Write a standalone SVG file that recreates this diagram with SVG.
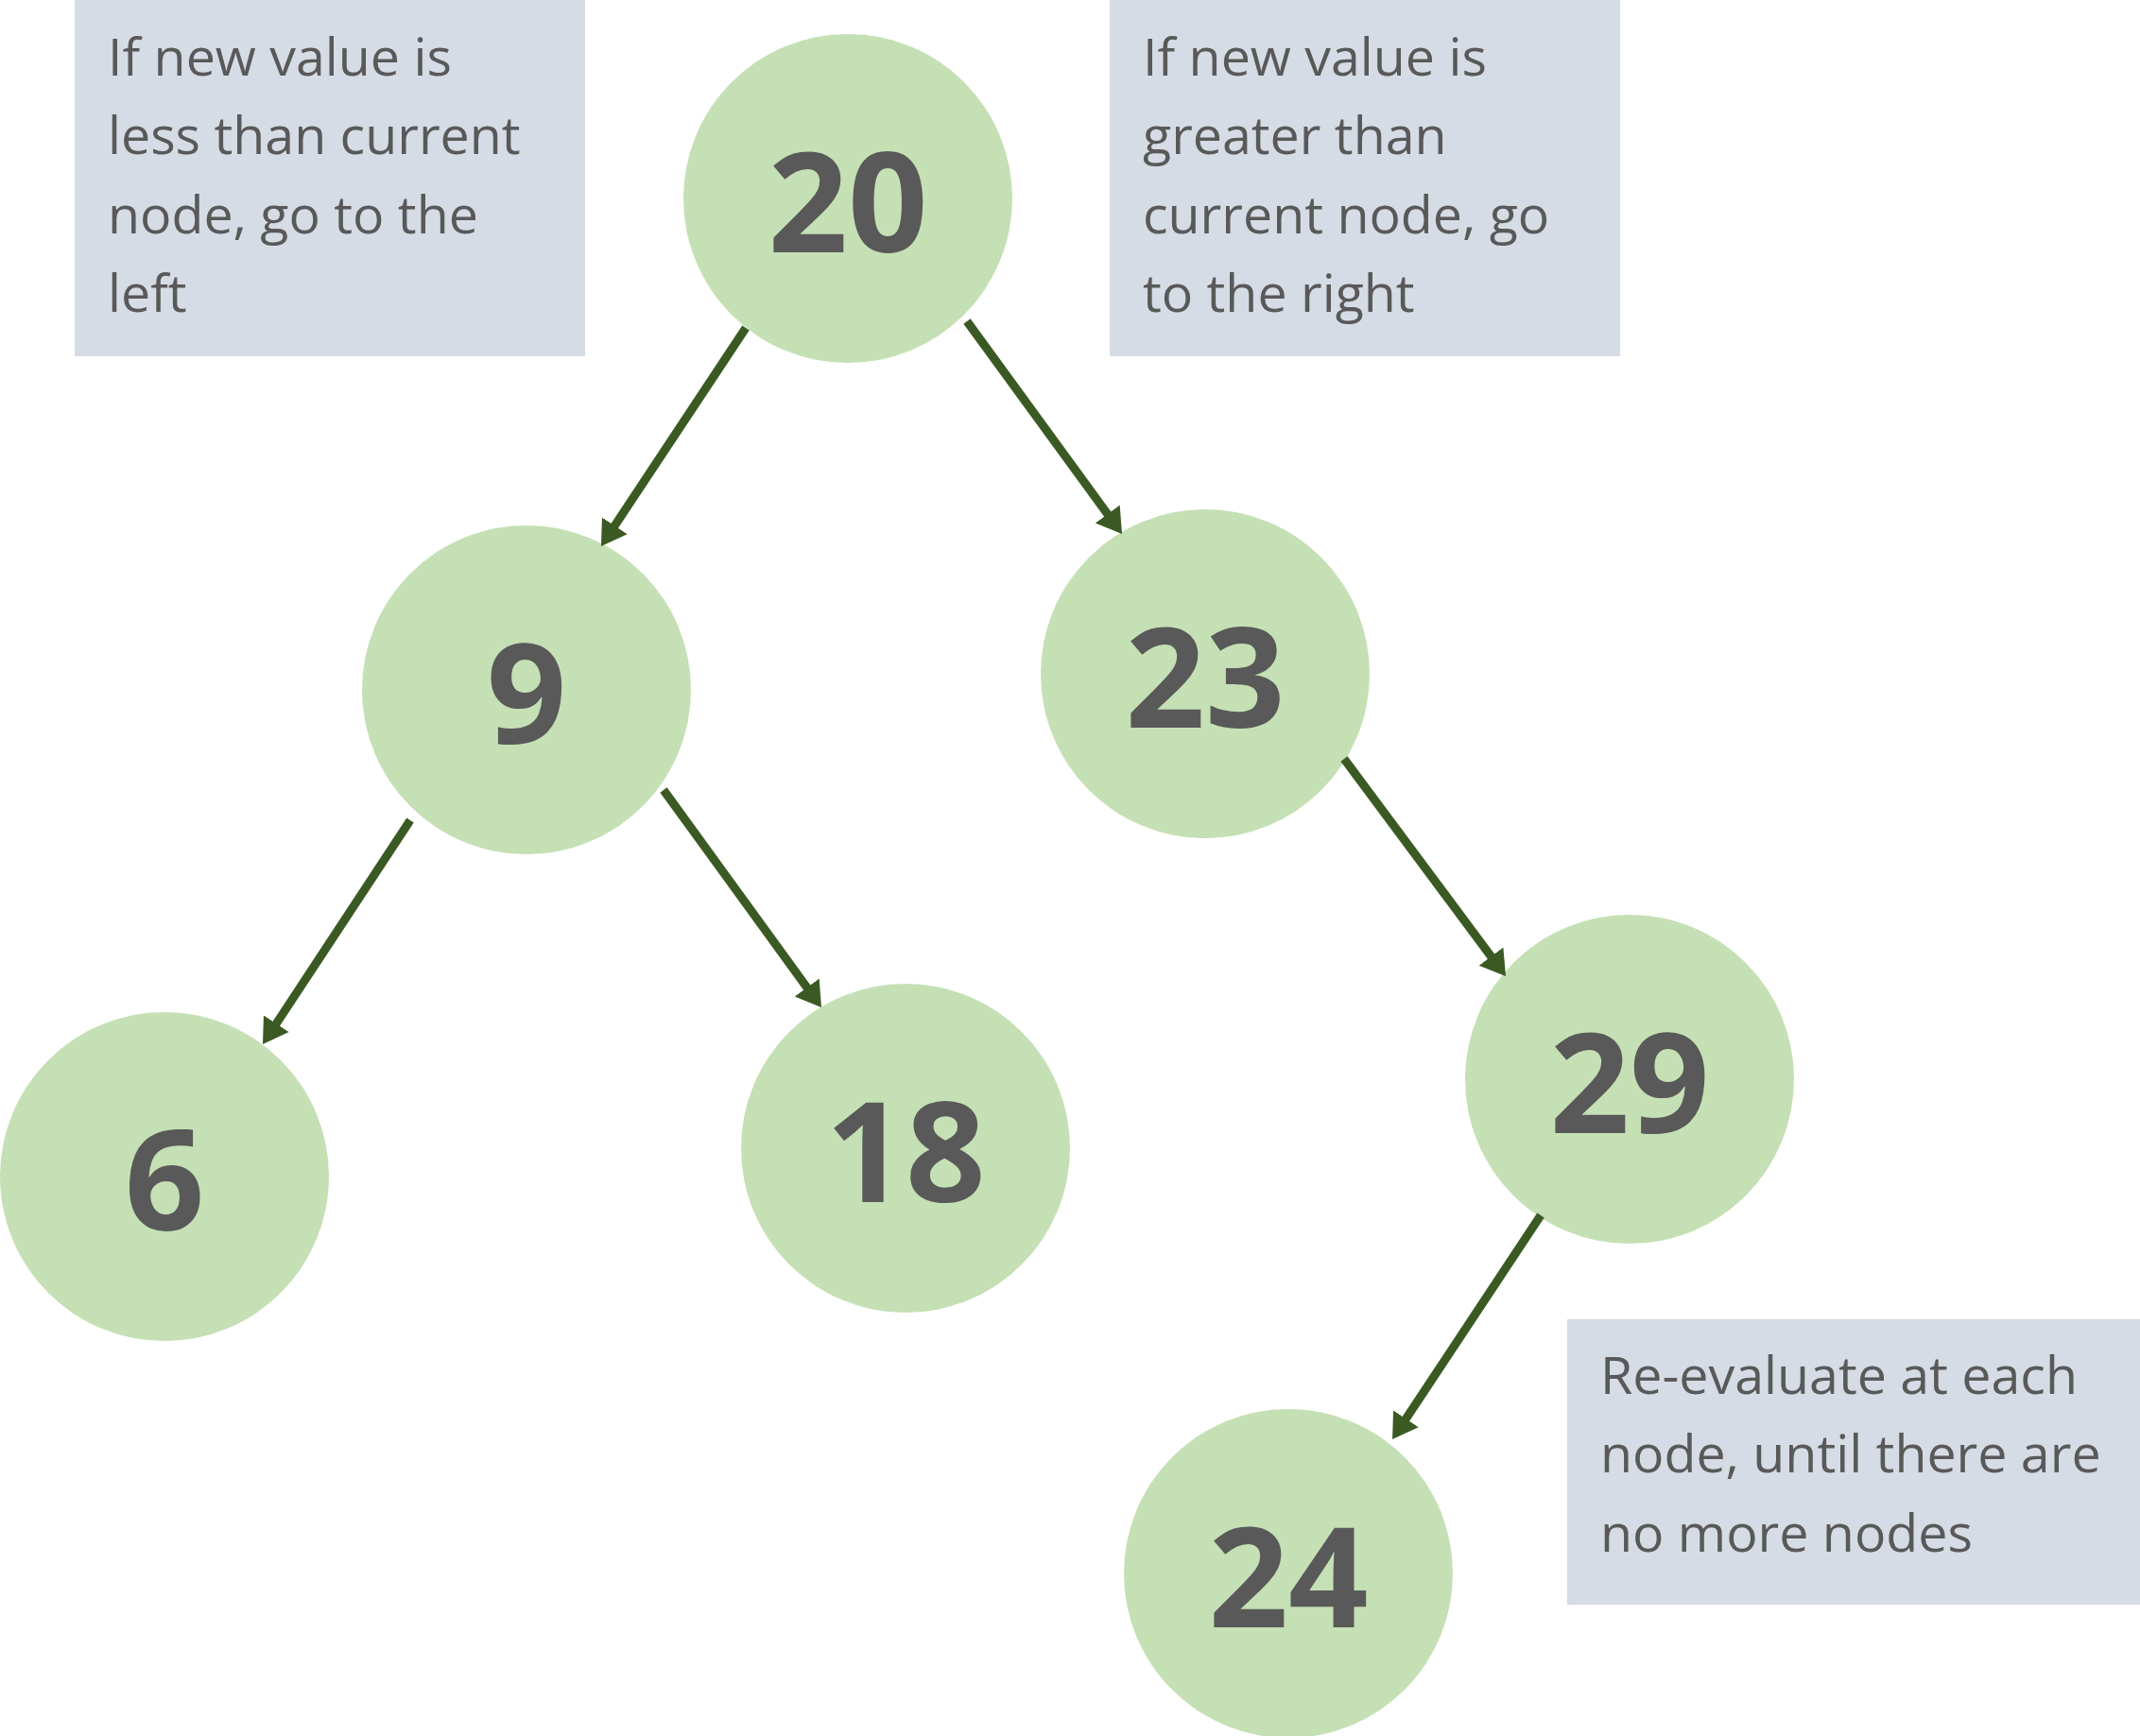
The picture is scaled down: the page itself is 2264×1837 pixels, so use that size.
<svg xmlns="http://www.w3.org/2000/svg" width="2264" height="1837" viewBox="0 0 2264 1837">
  <style>
    .box { fill: #D6DCE5; }
    .note { font-family: "Open Sans", "Liberation Sans", sans-serif; font-size: 55.5px; fill: #595959; }
    .node circle { fill: #C5E0B4; }
    .node text { font-family: "Open Sans", "Liberation Sans", sans-serif; font-weight: bold; font-size: 148px; fill: #595959; text-anchor: middle; }
    .edge { stroke: #3B5A23; stroke-width: 9; fill: none; marker-end: url(#arr); }
  </style>
  <defs>
    <marker id="arr" markerUnits="userSpaceOnUse" markerWidth="28" markerHeight="34" viewBox="0 -17 28 34" refX="2" refY="0" orient="auto">
      <path d="M0,-16 L26,0 L0,16 z" fill="#3B5A23"/>
    </marker>
  </defs>
  <rect width="2264" height="1837" fill="#FFFFFF"/>

  <g id="note-left">
    <rect class="box" x="79" y="0" width="540" height="377"/>
    <text class="note" x="114" y="80">If new value is</text>
    <text class="note" x="114" y="163">less than current</text>
    <text class="note" x="114" y="247">node, go to the</text>
    <text class="note" x="114" y="330">left</text>
  </g>
  <g id="note-right">
    <rect class="box" x="1174" y="0" width="540" height="377"/>
    <text class="note" x="1209" y="80">If new value is</text>
    <text class="note" x="1209" y="163">greater than</text>
    <text class="note" x="1209" y="247">current node, go</text>
    <text class="note" x="1209" y="330">to the right</text>
  </g>
  <g id="note-bottom">
    <rect class="box" x="1658" y="1396" width="606" height="302"/>
    <text class="note" x="1693" y="1475">Re-evaluate at each</text>
    <text class="note" x="1693" y="1558">node, until there are</text>
    <text class="note" x="1693" y="1642">no more nodes</text>
  </g>

  <g id="node-20" class="node"><circle cx="897" cy="210" r="174"/><text x="897" y="267">20</text></g>
  <g id="node-9" class="node"><circle cx="557" cy="730" r="174"/><text x="557" y="787">9</text></g>
  <g id="node-23" class="node"><circle cx="1275" cy="713" r="174"/><text x="1275" y="770">23</text></g>
  <g id="node-6" class="node"><circle cx="174" cy="1245" r="174"/><text x="174" y="1302">6</text></g>
  <g id="node-18" class="node"><circle cx="958" cy="1215" r="174"/><text x="958" y="1272">18</text></g>
  <g id="node-29" class="node"><circle cx="1724" cy="1142" r="174"/><text x="1724" y="1199">29</text></g>
  <g id="node-24" class="node"><circle cx="1363" cy="1665" r="174"/><text x="1363" y="1722">24</text></g>

  <g id="connectors">
    <line class="edge" x1="789" y1="347" x2="649.2" y2="558.0"/>
    <line class="edge" x1="1023" y1="340" x2="1172.9" y2="545.6"/>
    <line class="edge" x1="434" y1="868" x2="291.2" y2="1084.9"/>
    <line class="edge" x1="702" y1="836" x2="854.9" y2="1046.6"/>
    <line class="edge" x1="1422" y1="803" x2="1578.7" y2="1013.7"/>
    <line class="edge" x1="1630" y1="1286" x2="1486.3" y2="1503.0"/>
  </g>
</svg>
